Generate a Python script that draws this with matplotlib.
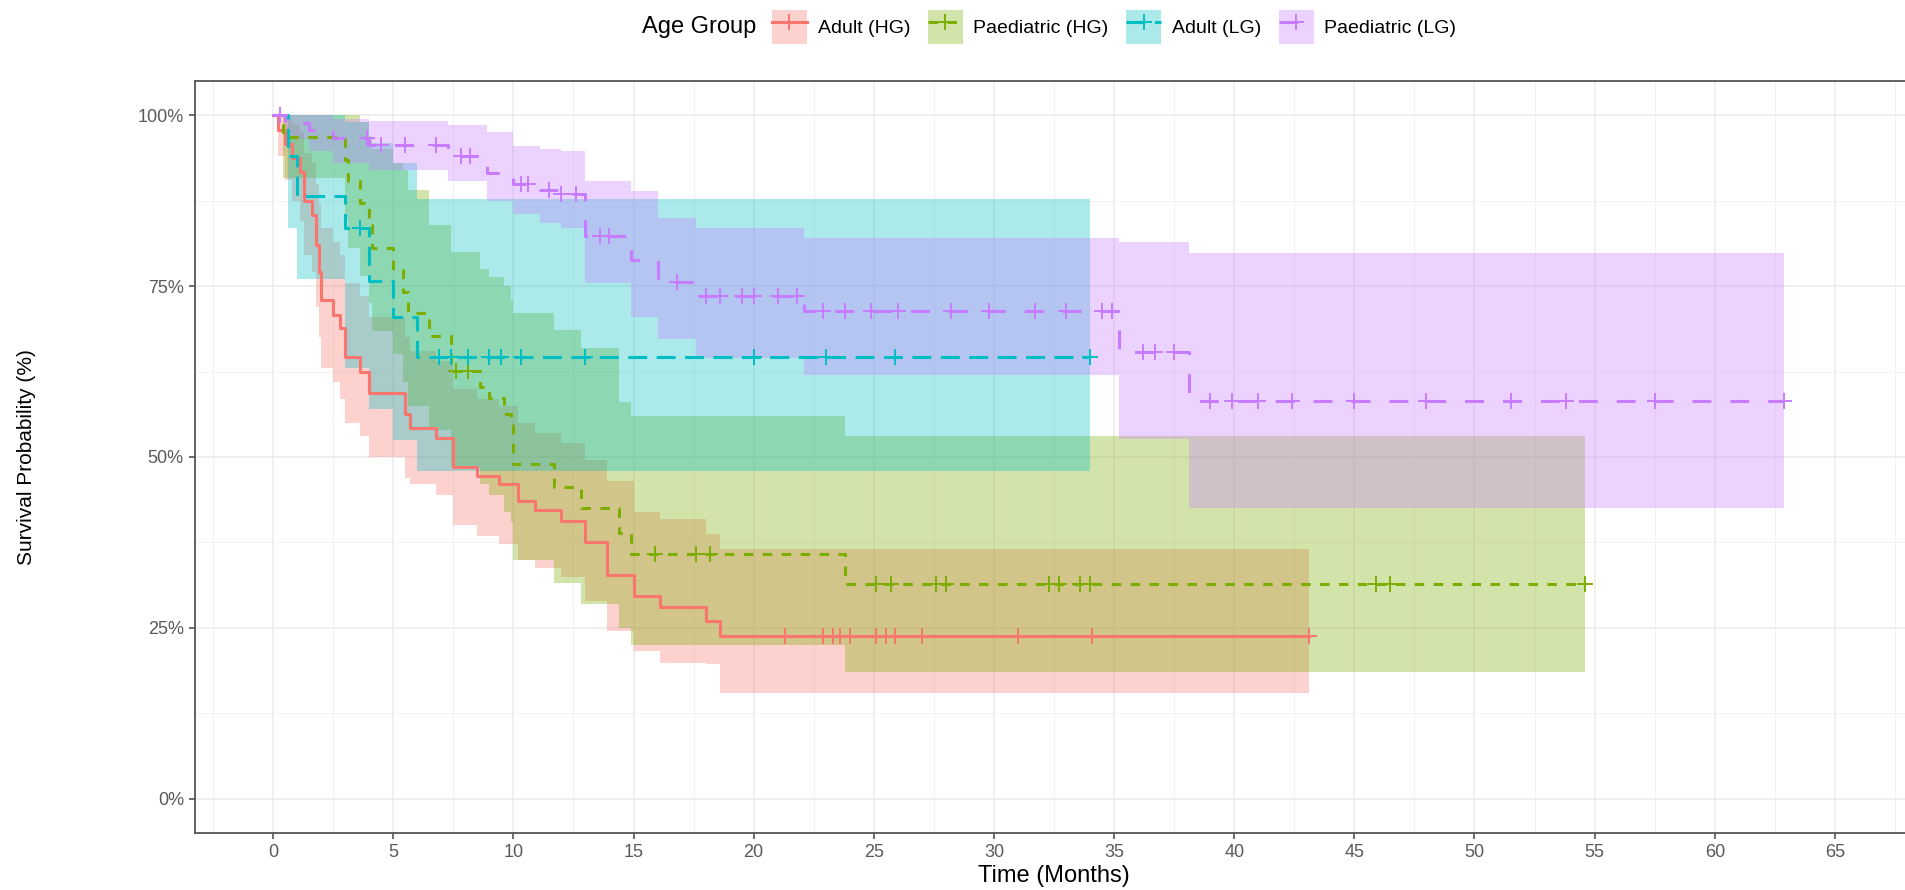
import numpy as np
import matplotlib
matplotlib.use('Agg')
import matplotlib.pyplot as plt
from matplotlib.patches import Patch
from matplotlib.lines import Line2D
from matplotlib.ticker import MultipleLocator, FuncFormatter

plt.rcParams['font.family'] = ['Liberation Sans', 'DejaVu Sans']

GROUPS = ['Adult (HG)', 'Paediatric (HG)', 'Adult (LG)', 'Paediatric (LG)']
COLORS = ['#F8766D', '#7CAE00', '#00BFC4', '#C77CFF']

# Adult (HG) -------------------------------------------------------
adult_hg_time = [0, 0.2, 0.5, 0.8, 1.1, 1.3, 1.6, 1.8, 1.9, 2.0, 2.5, 2.8, 3.0, 3.6, 4.0,
                 5.5, 5.7, 6.8, 7.5, 8.5, 9.4, 10.2, 10.9, 12.0, 13.0, 13.9, 15.0, 16.1,
                 18.0, 18.6]
adult_hg_surv = [100, 97.9, 95.8, 93.8, 91.7, 87.5, 85.4, 81.0, 77.0, 73.0, 70.8, 68.8, 64.6,
                 62.5, 59.4, 56.3, 54.2, 52.8, 48.5, 47.2, 46.0, 43.6, 42.3, 40.6, 37.6, 32.8,
                 29.6, 28.0, 26.0, 23.8]
adult_hg_lower = [100, 94.0, 90.5, 87.5, 84.5, 79.5, 77.0, 72.0, 67.5, 63.0, 61.0, 58.5, 55.0,
                  53.0, 50.0, 47.0, 46.0, 44.5, 40.0, 38.5, 37.3, 35.0, 33.7, 32.5, 29.0, 24.5,
                  21.6, 19.9, 19.7, 15.5]
adult_hg_upper = [100, 100, 99.5, 98.5, 97.5, 94.5, 93.0, 90.0, 87.0, 83.5, 81.5, 79.5, 75.5,
                  73.5, 70.5, 67.5, 65.5, 64.0, 60.0, 58.5, 57.5, 55.0, 53.5, 52.0, 49.5, 46.5,
                  42.0, 41.0, 38.7, 36.5]
adult_hg_end = 43.1
adult_hg_censor = [21.3, 22.9, 23.3, 23.6, 24.0, 25.1, 25.5, 25.9, 27.0, 31.0, 34.1, 43.1]

# Paediatric (HG) --------------------------------------------------
paed_hg_time = [0, 0.4, 3.0, 3.1, 3.6, 4.0, 4.1, 5.0, 5.4, 5.6, 6.5, 7.4, 8.6, 9.0, 9.6,
                9.9, 10.0, 11.7, 12.8, 14.4, 14.9, 23.8]
paed_hg_surv = [100, 96.8, 93.5, 90.3, 87.1, 83.9, 80.6, 77.4, 74.2, 71.0, 67.7, 62.6, 60.2,
                58.7, 56.3, 54.7, 49.0, 45.6, 42.6, 38.9, 35.8, 31.4]
paed_hg_lower = [100, 90.8, 85.0, 80.5, 76.5, 72.5, 68.5, 65.0, 61.0, 57.5, 54.0, 48.5, 46.0,
                 44.5, 42.0, 40.5, 35.0, 31.5, 28.5, 25.0, 22.5, 18.5]
paed_hg_upper = [100, 100, 100, 100, 99.0, 97.0, 95.0, 93.0, 92.0, 89.0, 84.0, 80.0, 77.5,
                 76.4, 75.0, 73.0, 71.0, 68.6, 66.0, 58.0, 56.0, 53.0]
paed_hg_end = 54.6
paed_hg_censor = [7.6, 8.1, 15.9, 17.6, 18.2, 25.1, 25.7, 27.6, 28.0, 32.3, 32.7, 33.6, 34.0,
                  45.9, 46.5, 54.6]

# Adult (LG) -------------------------------------------------------
adult_lg_time = [0, 0.6, 1.0, 3.0, 4.0, 5.0, 6.0]
adult_lg_surv = [100, 94.1, 88.2, 83.5, 75.8, 70.5, 64.7]
adult_lg_lower = [100, 83.5, 76.0, 63.0, 57.0, 52.5, 48.0]
adult_lg_upper = [100, 100, 100, 99.0, 96.0, 93.0, 87.7]
adult_lg_end = 34.0
adult_lg_censor = [3.6, 6.9, 7.4, 8.1, 9.0, 9.5, 10.3, 13.0, 20.0, 23.0, 25.9, 34.0]

# Paediatric (LG) --------------------------------------------------
paed_lg_time = [0, 0.5, 1.5, 2.5, 4.0, 7.3, 8.9, 10.0, 11.1, 12.0, 13.0, 14.9, 16.0, 17.6,
                22.1, 35.2, 38.1]
paed_lg_surv = [100, 98.9, 97.8, 96.7, 95.6, 94.0, 91.6, 90.0, 89.0, 88.4, 82.3, 78.8, 75.6,
                73.5, 71.3, 65.4, 58.2]
paed_lg_lower = [100, 96.5, 94.8, 93.0, 92.0, 90.3, 87.5, 85.5, 84.3, 83.5, 75.5, 70.5, 67.2,
                 64.5, 62.0, 52.7, 42.6]
paed_lg_upper = [100, 100, 100, 99.5, 99.2, 98.5, 97.5, 95.5, 95.0, 94.7, 90.3, 88.9, 85.0,
                 83.5, 82.0, 81.4, 79.9]
paed_lg_end = 62.9
paed_lg_censor = [0.3, 3.9, 4.5, 5.5, 6.8, 7.8, 8.2, 10.3, 10.6, 11.5, 12.0, 12.6, 13.6, 14.0,
                  16.8, 18.0, 18.6, 19.5, 20.0, 21.0, 21.8, 22.9, 23.8, 24.9, 26.0, 28.2, 29.8,
                  31.7, 33.0, 34.5, 34.9, 36.2, 36.7, 37.5, 39.0, 39.9, 41.0, 42.4, 45.0, 48.0,
                  51.5, 53.8, 57.5, 62.9]

curves = [
    (adult_hg_time, adult_hg_surv, adult_hg_lower, adult_hg_upper, adult_hg_end, adult_hg_censor),
    (paed_hg_time, paed_hg_surv, paed_hg_lower, paed_hg_upper, paed_hg_end, paed_hg_censor),
    (adult_lg_time, adult_lg_surv, adult_lg_lower, adult_lg_upper, adult_lg_end, adult_lg_censor),
    (paed_lg_time, paed_lg_surv, paed_lg_lower, paed_lg_upper, paed_lg_end, paed_lg_censor),
]

LW = 2.2
STYLES = ['-', (0, (3.1, 3.1)), (0, (6.2, 3.1)), (0, (6.2, 6.2))]
ALPHA = 0.33
MS = 11


def extend(t, v, end):
    return np.append(t, end), np.append(v, v[-1])


fig = plt.figure(figsize=(19.06, 8.9), dpi=100)
ax = fig.add_axes([195 / 1906, 1 - 833 / 890, (1913 - 195) / 1906, (833 - 81) / 890])

# bands first
for (t, s, lo, hi, end, cens), col in zip(curves, COLORS):
    tt, ll = extend(t, lo, end)
    _, hh = extend(t, hi, end)
    ax.fill_between(tt, ll, hh, step='post', color=col, alpha=ALPHA, lw=0)

# curves and censor marks
for (t, s, lo, hi, end, cens), col, ls in zip(curves, COLORS, STYLES):
    tt, ss = extend(t, s, end)
    ax.step(tt, ss, where='post', color=col, lw=LW, linestyle=ls)
    idx = np.searchsorted(t, cens, side='right') - 1
    ax.plot(cens, np.array(s)[idx], linestyle='none', marker='+', ms=MS, mew=1.4, color=col)

ax.set_xlim(-3.25, 68.25)
ax.set_ylim(-5, 105)
ax.xaxis.set_major_locator(MultipleLocator(5))
ax.xaxis.set_minor_locator(MultipleLocator(2.5))
ax.yaxis.set_major_locator(MultipleLocator(25))
ax.yaxis.set_minor_locator(MultipleLocator(12.5))
ax.yaxis.set_major_formatter(FuncFormatter(lambda v, p: f'{v:.0f}%'))

ax.set_axisbelow(True)
ax.grid(which='major', color='#EBEBEB', lw=1.1)
ax.grid(which='minor', color='#F2F2F2', lw=0.7)
for sp in ax.spines.values():
    sp.set_color('#555555')
    sp.set_linewidth(1.3)
ax.tick_params(which='major', length=4, width=1.1, color='#444444', labelcolor='#5A5A5A',
               labelsize=13, pad=4)
ax.tick_params(which='minor', length=0)

ax.set_xlabel('Time (Months)', fontsize=17, labelpad=3)
fig.text(27 / 1906, 1 - 457 / 890, 'Survival Probability (%)', rotation=90,
         ha='center', va='center', fontsize=15)

# legend along the top
fig.text(642 / 1906, 1 - 27 / 890, 'Age Group', ha='left', va='center', fontsize=17)
handles = []
for col, ls in zip(COLORS, STYLES):
    handles.append((Patch(facecolor=col, alpha=ALPHA, edgecolor='none'),
                    Line2D([], [], color=col, lw=LW, linestyle=ls, marker='+', ms=MS, mew=1.4)))
fig.legend(handles, GROUPS, loc='center left', bbox_to_anchor=(772 / 1906, 1 - 27 / 890),
           ncol=4, frameon=False, fontsize=14, handlelength=1.8, handleheight=2.3,
           handletextpad=0.55, columnspacing=0.9, borderpad=0, borderaxespad=0)

fig.savefig('out.png', dpi=100)
